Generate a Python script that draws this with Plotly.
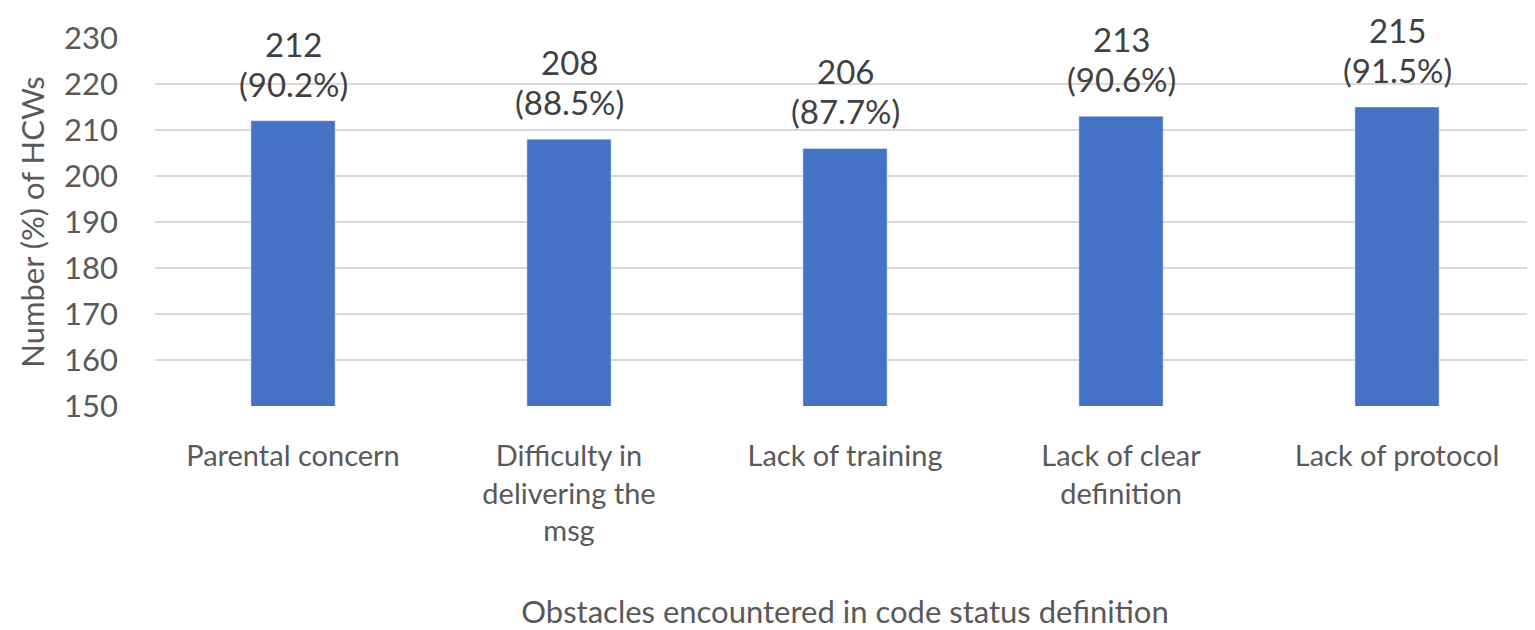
import plotly.graph_objects as go

categories = ["Parental concern", "Difficulty in<br>delivering the<br>msg", "Lack of training",
              "Lack of clear<br>definition", "Lack of protocol"]
counts = [212, 208, 206, 213, 215]
percents = ["90.2%", "88.5%", "87.7%", "90.6%", "91.5%"]

fig = go.Figure(go.Bar(
    x=categories,
    y=counts,
    marker=dict(color="#4472C4"),
    width=0.305,
))

# two-line data labels above each bar
for cat, c, p in zip(categories, counts, percents):
    fig.add_annotation(x=cat, y=c, text=str(c), showarrow=False, yanchor="middle",
                       yshift=77, borderpad=0, font=dict(size=33, color="#404040"))
    fig.add_annotation(x=cat, y=c, text=f"({p})", showarrow=False, yanchor="middle",
                       yshift=37, borderpad=0, font=dict(size=33, color="#404040"))

# page has 8px body margin, so figure is shrunk by 8px
fig.update_layout(
    width=1527, height=622,
    margin=dict(l=147, r=0, t=30, b=224),
    plot_bgcolor="white", paper_bgcolor="white",
    font=dict(family="Lato, Open Sans, sans-serif", size=30, color="#595959"),
    showlegend=False,
)
fig.update_yaxes(
    range=[150, 230], dtick=10, showgrid=True, gridcolor="#d9d9d9", gridwidth=2,
    zeroline=False, ticks="", ticklabelstandoff=36, automargin=False,
    tickfont=dict(size=31),
    title=dict(text="Number (%) of HCWs", font=dict(size=31, color="#595959"), standoff=10),
)
fig.update_xaxes(
    showline=False, ticks="", ticklabelstandoff=30, automargin=False,
    tickfont=dict(size=29),
    title=dict(text="Obstacles encountered in code status definition", font=dict(size=31, color="#595959"), standoff=56),
)

fig.write_html("out.html")
